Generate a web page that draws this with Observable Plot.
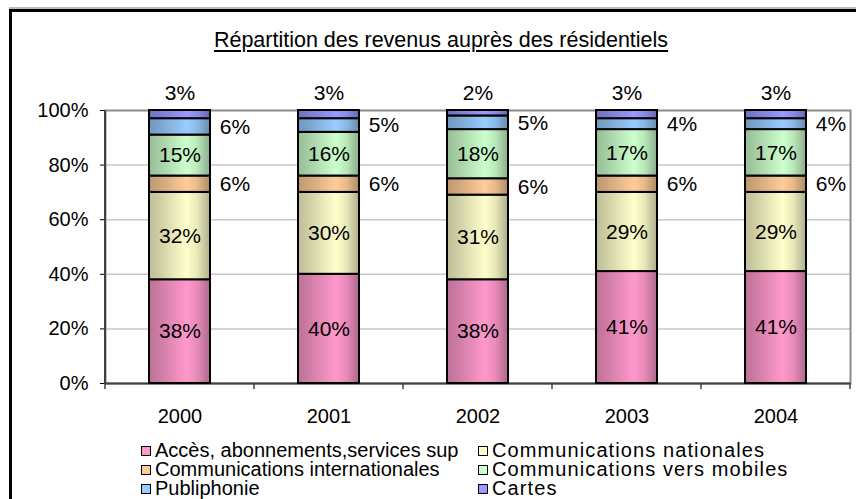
<!DOCTYPE html>
<html>
<head>
<meta charset="utf-8">
<script src="https://cdn.jsdelivr.net/npm/d3@7"></script>
<script src="https://cdn.jsdelivr.net/npm/@observablehq/plot@0.6"></script>
<style>
  html, body { margin: 0; padding: 0; background: #fff; }
  #wrap { position: relative; width: 856px; height: 499px; overflow: hidden; font-family: "Liberation Sans", Arial, sans-serif; }
  #border { position: absolute; left: 9px; top: 9px; width: 900px; height: 600px; border: 3px solid #000; box-shadow: 0 -2px 0 #bbb; pointer-events: none; }
  #title { position: absolute; left: 0; width: 882px; top: 30px; text-align: center; font-size: 21.5px; line-height: 21px; text-decoration: underline; text-underline-offset: 3px; white-space: nowrap; }
  .leg { position: absolute; font-size: 20px; line-height: 19px; white-space: nowrap; }
  .leg.c2 { letter-spacing: 1.1px; }
  .sw { display: inline-block; width: 8px; height: 8px; border: 1px solid #000; margin-right: 4px; vertical-align: 1px; }
  svg { position: absolute; left: 0; top: 0; }
</style>
</head>
<body>
<div id="wrap"></div>
<script>
const title = "Répartition des revenus auprès des résidentiels";
const years = ["2000", "2001", "2002", "2003", "2004"];
const series = ["Accès, abonnements,services sup", "Communications nationales", "Communications internationales", "Communications vers mobiles", "Publiphonie", "Cartes"];
const acces = [38, 40, 38, 41, 41];
const nationales = [32, 30, 31, 29, 29];
const internationales = [6, 6, 6, 6, 6];
const mobiles = [15, 16, 18, 17, 17];
const publiphonie = [6, 5, 5, 4, 4];
const cartes = [3, 3, 2, 3, 3];
const colors = ["#FF99CC", "#FFFFCC", "#FFCC99", "#CCFFCC", "#99CCFF", "#9999FF"];
const labelPlace = ["inside", "inside", "right", "inside", "right", "top"];
const yTicks = [0, 20, 40, 60, 80, 100];

const values = [acces, nationales, internationales, mobiles, publiphonie, cartes];
const rows = [];
years.forEach((year, i) => {
  let acc = 0;
  values.forEach((arr, s) => {
    const v = arr[i];
    rows.push({year, series: series[s], s, value: v, y1: acc, y2: acc + v, mid: acc + v / 2, place: labelPlace[s], fill: `url(#grad${s})`});
    acc += v;
  });
});

const chart = Plot.plot({
  width: 856,
  height: 499,
  marginLeft: 105,
  marginRight: 6,
  marginTop: 110,
  marginBottom: 116,
  style: {fontFamily: "'Liberation Sans', Arial, sans-serif", fontSize: "20px", color: "#000", background: "transparent", overflow: "visible"},
  x: {domain: years, paddingInner: 0.59, paddingOuter: 0.295, label: null, tickSize: 0, tickPadding: 25},
  y: {domain: [0, 100], ticks: yTicks, tickFormat: d => d + "%", label: null, tickSize: 5, tickPadding: 12},
  color: {type: "identity"},
  marks: [
    Plot.gridY(yTicks.filter(d => d > 0 && d < 100), {stroke: "#c8c8c8", strokeOpacity: 1, strokeWidth: 1.5}),
    Plot.frame({stroke: "#8c8c8c", strokeWidth: 2}),
    Plot.ruleY([0], {stroke: "#404040", strokeWidth: 2}),
    Plot.barY(rows, {x: "year", y1: "y1", y2: "y2", fill: "fill", stroke: "#000", strokeWidth: 2}),
    Plot.text(rows.filter(d => d.place === "inside"), {x: "year", y: "mid", text: d => d.value + "%", fontSize: 21}),
    Plot.text(rows.filter(d => d.place === "right"), {x: "year", y: "mid", dx: 55, text: d => d.value + "%", fontSize: 21}),
    Plot.text(rows.filter(d => d.place === "top"), {x: "year", y: () => 100, dy: -17, text: d => d.value + "%", fontSize: 21})
  ]
});

// gradients (Excel-like horizontal shading)
const svg = d3.select(chart);
const defs = svg.insert("defs", ":first-child");
colors.forEach((c, s) => {
  const g = defs.append("linearGradient").attr("id", `grad${s}`).attr("x1", 0).attr("x2", 1).attr("y1", 0).attr("y2", 0);
  const base = d3.rgb(c);
  const dark = k => d3.rgb(base.r * k, base.g * k, base.b * k).formatHex();
  [[0, 0.74], [0.2, 0.82], [0.62, 1], [0.8, 0.9], [1, 0.68]].forEach(([o, k]) => {
    g.append("stop").attr("offset", o).attr("stop-color", dark(k));
  });
});

// left axis line and category boundary ticks, from the scales
const xs = chart.scale("x"), ys = chart.scale("y");
const yTop = ys.apply(100), yBot = ys.apply(0);
const x0 = xs.range[0], x1 = xs.range[1];
svg.append("line").attr("x1", x0).attr("x2", x0).attr("y1", yTop).attr("y2", yBot + 1).attr("stroke", "#404040").attr("stroke-width", 2);
const step = (x1 - x0) / years.length;
d3.range(years.length + 1).forEach(i => {
  svg.append("line").attr("x1", x0 + i * step).attr("x2", x0 + i * step).attr("y1", yBot).attr("y2", yBot + 6).attr("stroke", "#404040").attr("stroke-width", 1.5);
});

const wrap = document.getElementById("wrap");
wrap.appendChild(chart);

const t = document.createElement("div");
t.id = "title"; t.textContent = title;
wrap.appendChild(t);

const legPos = [[141, 441], [478, 441], [141, 460], [478, 460], [141, 479], [478, 479]];
series.forEach((name, s) => {
  const d = document.createElement("div");
  d.className = "leg" + (s % 2 ? " c2" : "");
  d.style.left = legPos[s][0] + "px";
  d.style.top = legPos[s][1] + "px";
  const sw = document.createElement("span");
  sw.className = "sw"; sw.style.background = colors[s];
  sw.style.letterSpacing = "0";
  d.appendChild(sw);
  d.appendChild(document.createTextNode(name));
  wrap.appendChild(d);
});

const b = document.createElement("div");
b.id = "border";
wrap.appendChild(b);
</script>
</body>
</html>
